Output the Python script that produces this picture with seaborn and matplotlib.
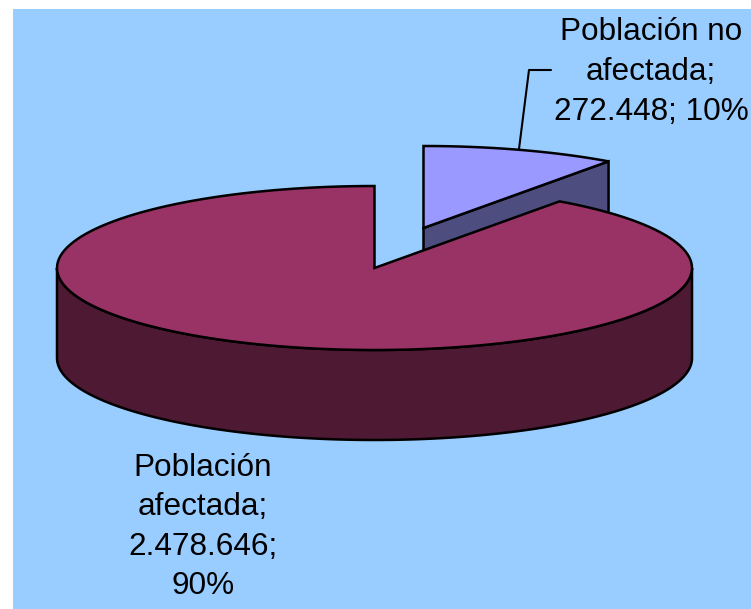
import numpy as np
import matplotlib
matplotlib.use("Agg")
import matplotlib.pyplot as plt
import seaborn as sns

# datos del grafico
categories = ["Población afectada", "Población no afectada"]
values = [2478646, 272448]
label_texts = ["Población\nafectada;\n2.478.646;\n90%", "Población no\nafectada;\n272.448; 10%"]
top_colors = ["#993366", "#9999FF"]
side_colors = ["#4D1933", "#4D4D80"]

CX, CY = 374.5, 268
RX, RY = 317.5, 82
DEPTH = 90
EXPLODE = (49, -40)

sns.set_theme(style="white")
plt.rcParams["font.family"] = ["Liberation Sans", "DejaVu Sans"]

fig = plt.figure(figsize=(7.51, 6.09), dpi=100)
ax = fig.add_axes([13 / 751, 0, 738 / 751, 600 / 609])
ax.set_xlim(13, 751)
ax.set_ylim(609, 9)
ax.set_facecolor("#99CCFF")
ax.set_xticks([])
ax.set_yticks([])
sns.despine(ax=ax, left=True, bottom=True)


def rim(a0, a1, dx=0, dy=0):
    # angulos en grados, en sentido horario desde las 12
    t = np.radians(np.linspace(a0, a1, 160))
    return CX + dx + RX * np.sin(t), CY + dy - RY * np.cos(t)


def draw_slice(a0, a1, top, side, dx=0, dy=0, cut_face=False, zorder=2):
    x, y = rim(a0, a1, dx, dy)
    # pared curva: solo la parte de delante (90-270 grados)
    lo, hi = max(a0, 90), min(a1, 270)
    if lo < hi:
        xs, ys = rim(lo, hi, dx, dy)
        ax.fill(np.r_[xs, xs[::-1]], np.r_[ys, ys[::-1] + DEPTH],
                fc=side, ec="black", lw=1.8, zorder=zorder)
    # cara del corte que mira hacia delante
    if cut_face:
        ax.fill([CX + dx, x[-1], x[-1], CX + dx],
                [CY + dy, y[-1], y[-1] + DEPTH, CY + dy + DEPTH],
                fc=side, ec="black", lw=1.8, zorder=zorder)
    ax.fill(np.r_[CX + dx, x], np.r_[CY + dy, y], fc=top, ec="black",
            lw=1.8, joinstyle="miter", zorder=zorder + 0.5)


small_angle = 360 * values[1] / sum(values)
draw_slice(0, small_angle, top_colors[1], side_colors[1], *EXPLODE, cut_face=True, zorder=2)
draw_slice(small_angle, 360, top_colors[0], side_colors[0], zorder=3)

# linea guia de la etiqueta
ax.plot([519, 529, 551], [149, 70, 70], color="black", lw=1.5, zorder=4)

ax.text(203, 527, label_texts[0], ha="center", va="center", fontsize=22.7,
        color="black", linespacing=1.42, zorder=5)
ax.text(651, 72, label_texts[1], ha="center", va="center", fontsize=22.7,
        color="black", linespacing=1.42, zorder=5)

fig.savefig("out.png", dpi=100, facecolor="white")
